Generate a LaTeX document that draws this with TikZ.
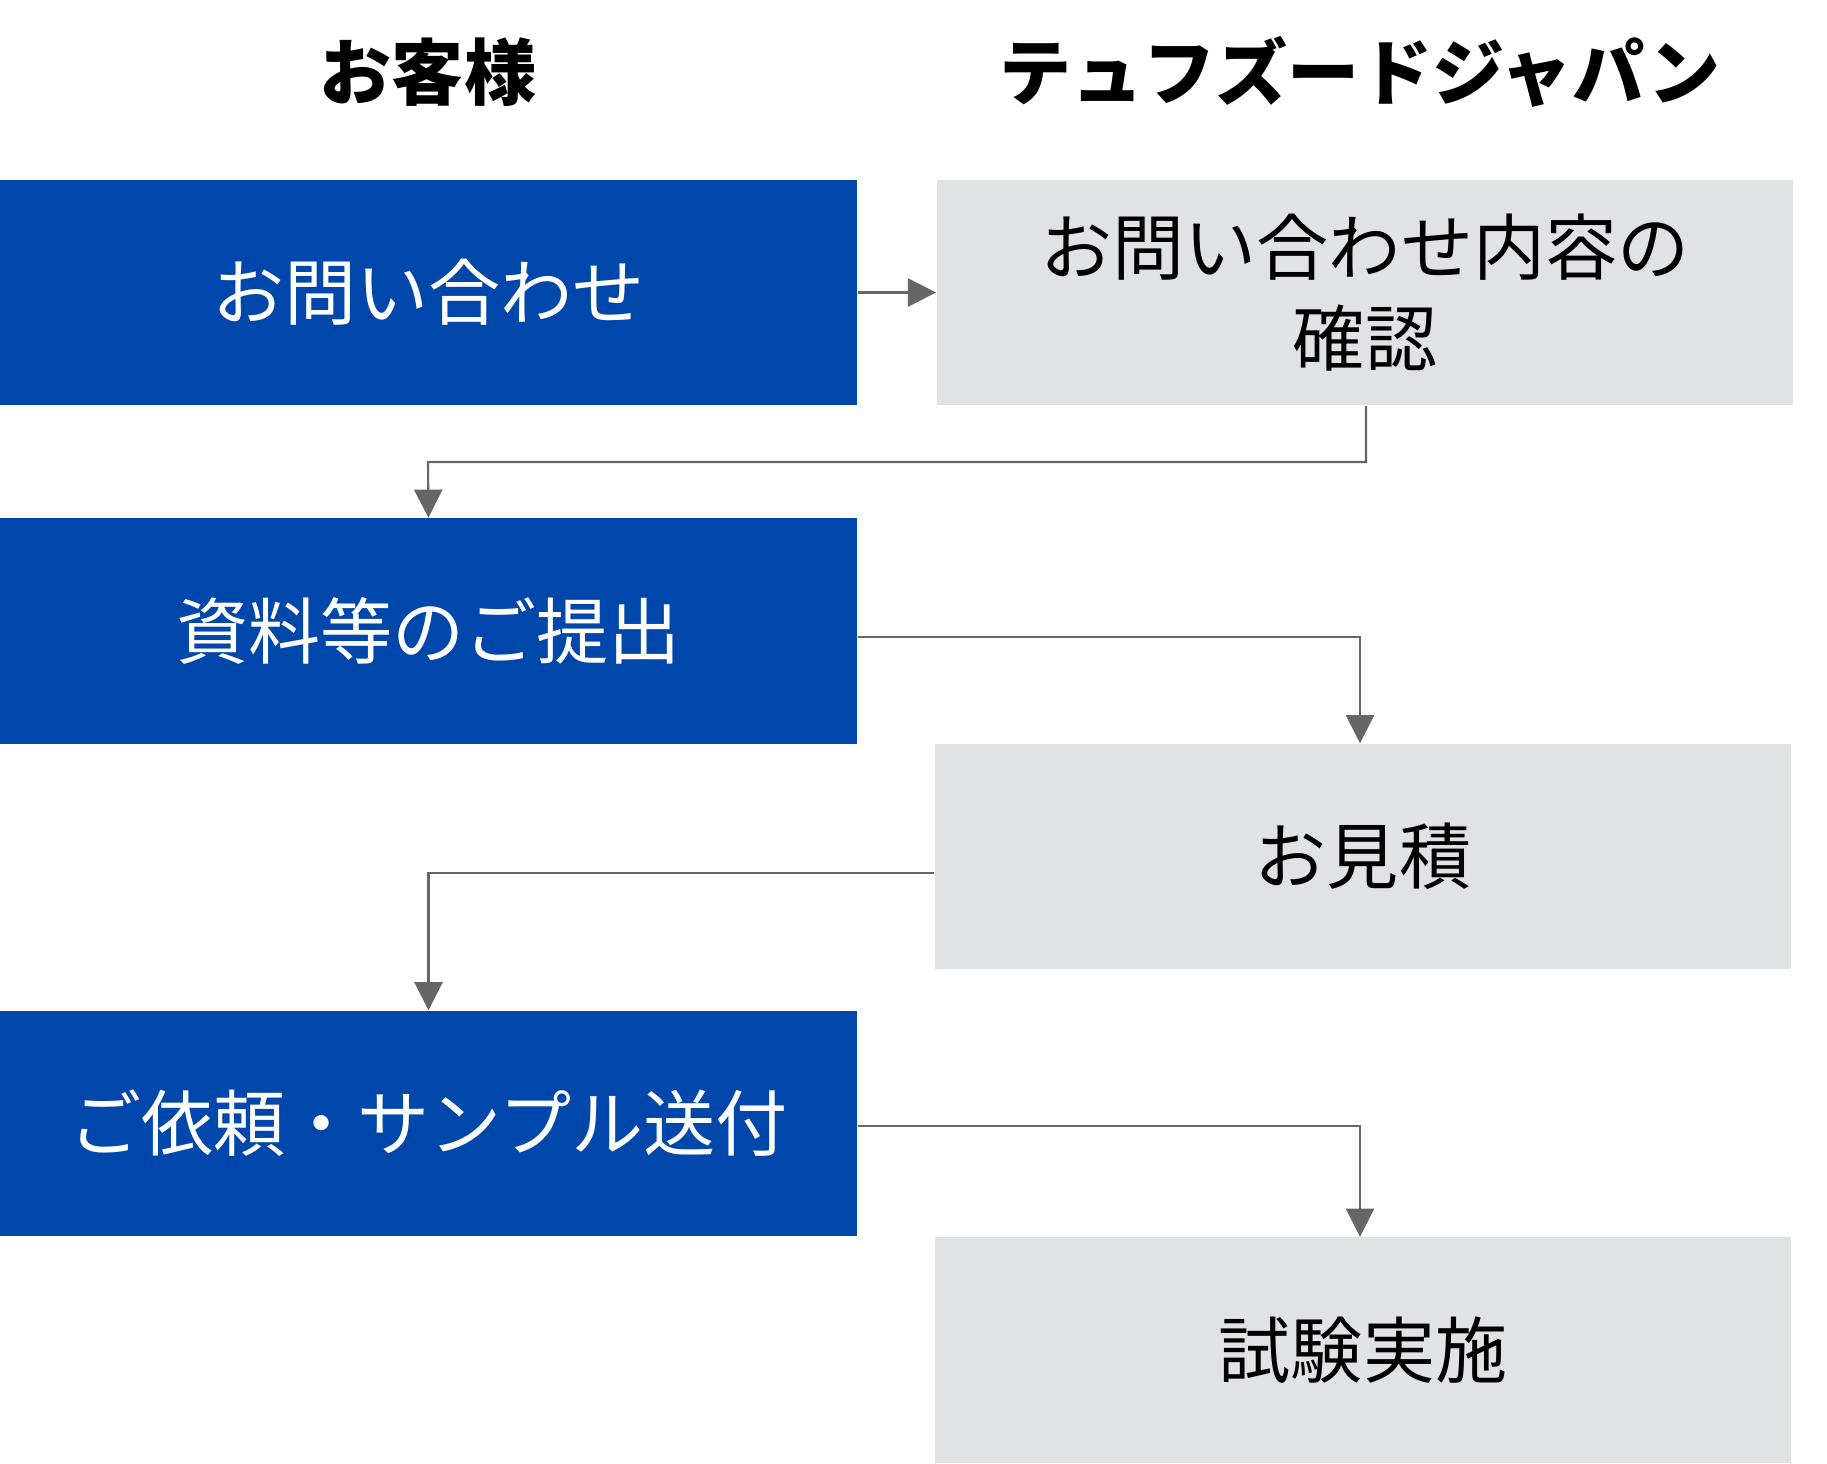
\documentclass[tikz,border=0pt]{standalone}
\usepackage{fontspec}
\setmainfont{Noto Sans CJK JP}
\usetikzlibrary{arrows.meta}
\definecolor{custblue}{HTML}{0047AB}
\definecolor{staffgray}{HTML}{E1E2E4}
\definecolor{linkgray}{HTML}{666666}
\tikzset{
  custbox/.style={fill=custblue, text=white, minimum width=8.57cm, minimum height=2.25cm, inner sep=0pt, font=\fontsize{20.5}{25}\selectfont, align=center},
  staffbox/.style={fill=staffgray, text=black, minimum width=8.56cm, minimum height=2.25cm, inner sep=0pt, font=\fontsize{20.5}{26}\selectfont, align=center},
  head/.style={font=\fontsize{20.5}{25}\selectfont\bfseries},
  flow/.style={draw=linkgray, line width=0.6pt, -{Triangle[length=8pt,width=8pt]}}
}
\begin{document}
\begin{tikzpicture}[x=0.01cm,y=-0.01cm]
    \useasboundingbox (0,0) rectangle (1827,1463);

    % Headings
    \node[head] (hcust) at (428,72) {お客様};
    \node[head] (hstaff) at (1360,72) {テュフズードジャパン};

    % Customer side
    \node[custbox] (inquiry) at (428.5,292.5) {お問い合わせ};
    \node[custbox] (docs) at (428.5,631) {資料等のご提出};
    \node[custbox] (order) at (428.5,1123.5) {ご依頼・サンプル送付};

    % Laboratory side
    \node[staffbox] (check) at (1365,292.5) {お問い合わせ内容の\\確認};
    \node[staffbox] (quote) at (1363,856.5) {お見積};
    \node[staffbox] (test) at (1363,1350) {試験実施};

    % Connectors
    \draw[flow] (inquiry.east) -- (check.west);
    \draw[flow] (check.south -| 1366,0) |- (428,462) -- (docs.north);
    \draw[flow] (docs.east |- 0,637) -| (quote.north -| 1360,0);
    \draw[flow] (quote.west |- 0,873) -| (order.north);
    \draw[flow] (order.east |- 0,1126) -| (test.north -| 1360,0);
\end{tikzpicture}
\end{document}
